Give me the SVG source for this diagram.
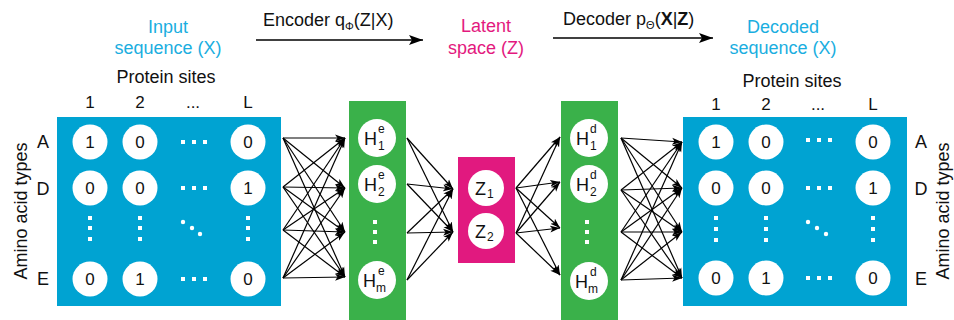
<svg xmlns="http://www.w3.org/2000/svg" width="954" height="320" viewBox="0 0 954 320">
<defs>
<style>
text{font-family:"Liberation Sans",Arial,sans-serif;fill:#111}
.lbl{font-size:18px}
.cy{fill:#1AAEDF;font-size:18px;text-anchor:middle}
.mg{fill:#E3197E;font-size:18px;text-anchor:middle}
.mid{text-anchor:middle}
.num{font-size:17px;text-anchor:middle}
.mat{fill:#00A3D2}
.grn{fill:#3AB14A}
.mag{fill:#E1197F}
.wc{fill:#fff}
.wd{fill:#fff}
.cn line{stroke:#000;stroke-width:1.2;marker-end:url(#ah)}
.big{stroke:#000;stroke-width:1.4;marker-end:url(#ahb)}
</style>
<marker id="ah" markerUnits="userSpaceOnUse" markerWidth="10" markerHeight="8" refX="10" refY="4" orient="auto"><path d="M0,0.5 L10,4 L0,7.5 L2.5,4 z" fill="#000"/></marker>
<marker id="ahb" markerUnits="userSpaceOnUse" markerWidth="14" markerHeight="10" refX="14" refY="5" orient="auto"><path d="M0,0 L14,5 L0,10 L3,5 z" fill="#000"/></marker>
</defs>

<g id="title-input"><text class="cy" x="168" y="33">Input</text><text class="cy" x="168" y="54">sequence (X)</text></g>
<g id="title-latent"><text class="mg" x="486" y="32">Latent</text><text class="mg" x="486" y="54">space (Z)</text></g>
<g id="title-decoded"><text class="cy" x="783" y="33">Decoded</text><text class="cy" x="783" y="54">sequence (X)</text></g>

<g id="encoder-label"><text class="lbl" x="263" y="26">Encoder q<tspan font-size="11" dy="4">Φ</tspan><tspan dy="-4">(Z|X)</tspan></text>
<line class="big" x1="256" y1="40" x2="423" y2="40"/></g>
<g id="decoder-label"><text class="lbl" x="563" y="25">Decoder p<tspan font-size="11" dy="4">Θ</tspan><tspan dy="-4">(</tspan><tspan font-weight="bold">X</tspan>|<tspan font-weight="bold">Z</tspan>)</text>
<line class="big" x1="553" y1="38" x2="713" y2="38"/></g>

<g id="input-matrix">
<text class="lbl mid" x="166" y="83">Protein sites</text>
<text class="num" x="90" y="108">1</text><text class="num" x="140" y="108">2</text><text class="num" x="193" y="108">...</text><text class="num" x="248" y="108">L</text>
<text class="lbl mid" x="43" y="148">A</text><text class="lbl mid" x="43" y="195">D</text><text class="lbl mid" x="43" y="285">E</text>
<text class="lbl mid" transform="translate(27,211) rotate(-90)">Amino acid types</text>
<rect class="mat" x="57" y="117" width="224" height="189"/>
<circle class="wc" cx="90" cy="142" r="17.5"/><circle class="wc" cx="140" cy="142" r="17.5"/><circle class="wc" cx="248" cy="142" r="17.5"/>
<circle class="wc" cx="90" cy="188" r="17.5"/><circle class="wc" cx="140" cy="188" r="17.5"/><circle class="wc" cx="248" cy="188" r="17.5"/>
<circle class="wc" cx="90" cy="279" r="17.5"/><circle class="wc" cx="140" cy="279" r="17.5"/><circle class="wc" cx="248" cy="279" r="17.5"/>
<text class="num" x="90" y="148">1</text><text class="num" x="140" y="148">0</text><text class="num" x="248" y="148">0</text>
<text class="num" x="90" y="194">0</text><text class="num" x="140" y="194">0</text><text class="num" x="248" y="194">1</text>
<text class="num" x="90" y="285">0</text><text class="num" x="140" y="285">1</text><text class="num" x="248" y="285">0</text>
<g class="wd">
<rect x="181" y="140" width="4" height="4"/><rect x="192" y="140" width="4" height="4"/><rect x="203" y="140" width="4" height="4"/>
<rect x="181" y="186" width="4" height="4"/><rect x="192" y="186" width="4" height="4"/><rect x="203" y="186" width="4" height="4"/>
<rect x="181" y="277" width="4" height="4"/><rect x="192" y="277" width="4" height="4"/><rect x="203" y="277" width="4" height="4"/>
<rect x="88" y="216" width="4" height="4"/><rect x="88" y="226" width="4" height="4"/><rect x="88" y="237" width="4" height="4"/>
<rect x="138" y="216" width="4" height="4"/><rect x="138" y="226" width="4" height="4"/><rect x="138" y="237" width="4" height="4"/>
<rect x="246" y="216" width="4" height="4"/><rect x="246" y="226" width="4" height="4"/><rect x="246" y="237" width="4" height="4"/>
<circle cx="183" cy="222" r="2.2"/><circle cx="192" cy="228" r="2.2"/><circle cx="200" cy="234" r="2.2"/>
</g>
</g>

<g id="encoder-hidden">
<rect class="grn" x="349" y="101" width="57" height="219"/>
<circle class="wc" cx="377" cy="138" r="19"/><circle class="wc" cx="377" cy="184" r="19"/><circle class="wc" cx="377" cy="280" r="19"/>
<rect class="wd" x="373" y="220" width="4" height="4"/><rect class="wd" x="373" y="230" width="4" height="4"/><rect class="wd" x="373" y="240" width="4" height="4"/>
<text class="lbl" x="364" y="145">H</text><text x="378" y="133" font-size="12">e</text><text x="378" y="150" font-size="12">1</text>
<text class="lbl" x="364" y="191">H</text><text x="378" y="179" font-size="12">e</text><text x="378" y="196" font-size="12">2</text>
<text class="lbl" x="363" y="287">H</text><text x="378" y="275" font-size="12">e</text><text x="376" y="292" font-size="12">m</text>
</g>

<g id="latent">
<rect class="mag" x="458" y="157" width="57" height="106"/>
<circle class="wc" cx="486" cy="188" r="18"/><circle class="wc" cx="486" cy="231" r="18"/>
<text class="lbl" x="475" y="195">Z</text><text x="487" y="198" font-size="12">1</text>
<text class="lbl" x="475" y="238">Z</text><text x="487" y="241" font-size="12">2</text>
</g>

<g id="decoder-hidden">
<rect class="grn" x="561" y="101" width="57" height="219"/>
<circle class="wc" cx="589" cy="138" r="19"/><circle class="wc" cx="589" cy="184" r="19"/><circle class="wc" cx="589" cy="281" r="19"/>
<rect class="wd" x="585" y="220" width="4" height="4"/><rect class="wd" x="585" y="230" width="4" height="4"/><rect class="wd" x="585" y="240" width="4" height="4"/>
<text class="lbl" x="576" y="145">H</text><text x="590" y="133" font-size="12">d</text><text x="590" y="150" font-size="12">1</text>
<text class="lbl" x="576" y="191">H</text><text x="590" y="179" font-size="12">d</text><text x="590" y="196" font-size="12">2</text>
<text class="lbl" x="575" y="288">H</text><text x="590" y="276" font-size="12">d</text><text x="588" y="293" font-size="12">m</text>
</g>

<g id="output-matrix">
<text class="lbl mid" x="792" y="87">Protein sites</text>
<text class="num" x="716" y="110">1</text><text class="num" x="766" y="110">2</text><text class="num" x="818" y="110">...</text><text class="num" x="873" y="110">L</text>
<text class="lbl mid" x="921" y="148">A</text><text class="lbl mid" x="921" y="195">D</text><text class="lbl mid" x="921" y="285">E</text>
<text class="lbl mid" transform="translate(949,211) rotate(-90)">Amino acid types</text>
<rect class="mat" x="683" y="117" width="224" height="189"/>
<circle class="wc" cx="716" cy="142" r="17.5"/><circle class="wc" cx="766" cy="142" r="17.5"/><circle class="wc" cx="873" cy="142" r="17.5"/>
<circle class="wc" cx="716" cy="188" r="17.5"/><circle class="wc" cx="766" cy="188" r="17.5"/><circle class="wc" cx="873" cy="188" r="17.5"/>
<circle class="wc" cx="716" cy="278" r="17.5"/><circle class="wc" cx="766" cy="278" r="17.5"/><circle class="wc" cx="873" cy="278" r="17.5"/>
<text class="num" x="716" y="148">1</text><text class="num" x="766" y="148">0</text><text class="num" x="873" y="148">0</text>
<text class="num" x="716" y="194">0</text><text class="num" x="766" y="194">0</text><text class="num" x="873" y="194">1</text>
<text class="num" x="716" y="284">0</text><text class="num" x="766" y="284">1</text><text class="num" x="873" y="284">0</text>
<g class="wd">
<rect x="806" y="138" width="4" height="4"/><rect x="817" y="138" width="4" height="4"/><rect x="828" y="138" width="4" height="4"/>
<rect x="806" y="186" width="4" height="4"/><rect x="817" y="186" width="4" height="4"/><rect x="828" y="186" width="4" height="4"/>
<rect x="806" y="276" width="4" height="4"/><rect x="817" y="276" width="4" height="4"/><rect x="828" y="276" width="4" height="4"/>
<rect x="714" y="216" width="4" height="4"/><rect x="714" y="227" width="4" height="4"/><rect x="714" y="238" width="4" height="4"/>
<rect x="764" y="216" width="4" height="4"/><rect x="764" y="227" width="4" height="4"/><rect x="764" y="238" width="4" height="4"/>
<rect x="871" y="216" width="4" height="4"/><rect x="871" y="227" width="4" height="4"/><rect x="871" y="238" width="4" height="4"/>
<circle cx="808" cy="222" r="2.2"/><circle cx="817" cy="228" r="2.2"/><circle cx="826" cy="234" r="2.2"/>
</g>
</g>

<g id="connectors" class="cn">
<line x1="283" y1="138" x2="345" y2="138"/><line x1="283" y1="138" x2="345" y2="188"/><line x1="283" y1="138" x2="345" y2="232"/><line x1="283" y1="138" x2="345" y2="277"/>
<line x1="283" y1="187" x2="345" y2="138"/><line x1="283" y1="187" x2="345" y2="188"/><line x1="283" y1="187" x2="345" y2="232"/><line x1="283" y1="187" x2="345" y2="277"/>
<line x1="283" y1="230" x2="345" y2="138"/><line x1="283" y1="230" x2="345" y2="188"/><line x1="283" y1="230" x2="345" y2="232"/><line x1="283" y1="230" x2="345" y2="277"/>
<line x1="283" y1="278" x2="345" y2="138"/><line x1="283" y1="278" x2="345" y2="188"/><line x1="283" y1="278" x2="345" y2="232"/><line x1="283" y1="278" x2="345" y2="277"/>
<line x1="407" y1="138" x2="453" y2="189"/><line x1="407" y1="138" x2="453" y2="232"/>
<line x1="407" y1="184" x2="453" y2="189"/><line x1="407" y1="184" x2="453" y2="232"/>
<line x1="407" y1="233" x2="453" y2="189"/><line x1="407" y1="233" x2="453" y2="232"/>
<line x1="407" y1="280" x2="453" y2="189"/><line x1="407" y1="280" x2="453" y2="232"/>
<line x1="516" y1="188" x2="560" y2="137"/><line x1="516" y1="188" x2="560" y2="182"/><line x1="516" y1="188" x2="560" y2="228"/><line x1="516" y1="188" x2="560" y2="275"/>
<line x1="516" y1="233" x2="560" y2="137"/><line x1="516" y1="233" x2="560" y2="182"/><line x1="516" y1="233" x2="560" y2="228"/><line x1="516" y1="233" x2="560" y2="275"/>
<line x1="621" y1="138" x2="682" y2="142"/><line x1="621" y1="138" x2="682" y2="188"/><line x1="621" y1="138" x2="682" y2="232"/><line x1="621" y1="138" x2="682" y2="278"/>
<line x1="621" y1="190" x2="682" y2="142"/><line x1="621" y1="190" x2="682" y2="188"/><line x1="621" y1="190" x2="682" y2="232"/><line x1="621" y1="190" x2="682" y2="278"/>
<line x1="621" y1="232" x2="682" y2="142"/><line x1="621" y1="232" x2="682" y2="188"/><line x1="621" y1="232" x2="682" y2="232"/><line x1="621" y1="232" x2="682" y2="278"/>
<line x1="621" y1="280" x2="682" y2="142"/><line x1="621" y1="280" x2="682" y2="188"/><line x1="621" y1="280" x2="682" y2="232"/><line x1="621" y1="280" x2="682" y2="278"/>
</g>
</svg>
